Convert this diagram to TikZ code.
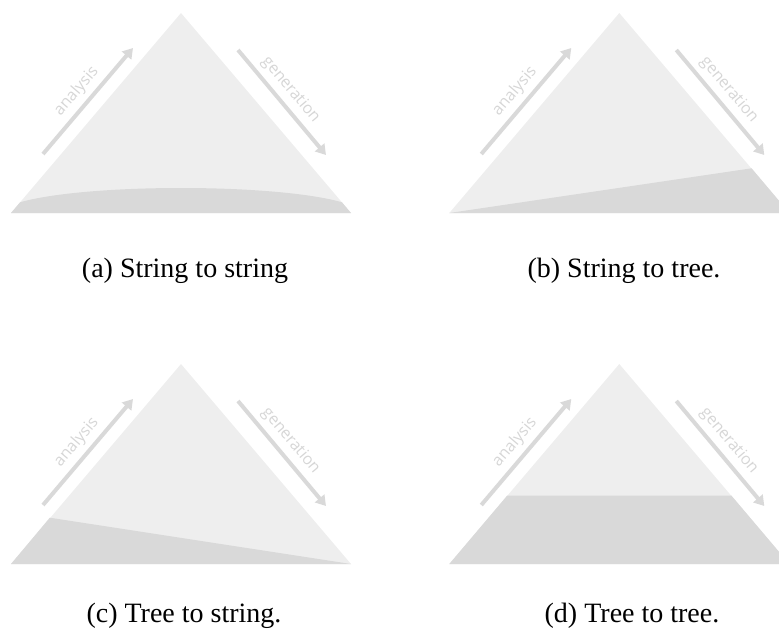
\documentclass[tikz,border=0pt]{standalone}
\usepackage{fontspec}
\setmainfont{Liberation Serif}
\newfontfamily\lblfont{Open Sans}
\usetikzlibrary{positioning,arrows.meta}
\definecolor{triLite}{HTML}{EEEEEE}
\definecolor{triDark}{HTML}{D9D9D9}
\definecolor{arrGray}{HTML}{D9D9D9}
\definecolor{lblGray}{HTML}{D6D6D6}

\begin{document}
\begin{tikzpicture}[
  x=1pt, y=-1pt,
  font=\fontsize{28}{32}\selectfont,
  lite/.style={fill=triLite},
  dark/.style={fill=triDark},
  flow/.style={line width=4pt, arrGray, -{Triangle[length=10pt, width=12pt]}},
  lbl/.style={font=\lblfont\fontsize{16}{19}\selectfont, text=lblGray, inner sep=0pt, midway, sloped, above=5pt},
  subcap/.style={anchor=base, inner sep=0pt}
]
\useasboundingbox (0,0) rectangle (779,637);

%% ===== (a) String to string =====
\begin{scope}
  \fill[lite] (11,213) -- (181,13) -- (351,213) -- cycle;
  \begin{scope}
    \clip (11,213) -- (181,13) -- (351,213) -- cycle;
    \fill[dark] (181,213) ellipse [x radius=178pt, y radius=25pt];
  \end{scope}
  \coordinate (a-an0) at (43,154);
  \coordinate (a-an1) at (133,48);
  \coordinate (a-ge0) at (238,50);
  \coordinate (a-ge1) at (326,155);
  \draw[flow] (a-an0) -- (a-an1) node[lbl] {analysis};
  \draw[flow] (a-ge0) -- (a-ge1) node[lbl, pos=0.47] {generation};
\end{scope}
\node[subcap] (capa) at (185,277) {(a) String to string};

%% ===== (b) String to tree =====
\begin{scope}[shift={(438.3,0)}]
  \fill[lite] (11,213) -- (181,13) -- (351,213) -- cycle;
  \fill[dark] (11,213) -- (313.3,168.3) -- (351,213) -- cycle;
  \coordinate (b-an0) at (43,154);
  \coordinate (b-an1) at (133,48);
  \coordinate (b-ge0) at (238,50);
  \coordinate (b-ge1) at (326,155);
  \draw[flow] (b-an0) -- (b-an1) node[lbl] {analysis};
  \draw[flow] (b-ge0) -- (b-ge1) node[lbl, pos=0.47] {generation};
\end{scope}
\node[subcap] (capb) at (624,277) {(b) String to tree.};

%% ===== (c) Tree to string =====
\begin{scope}[shift={(0,351)}]
  \fill[lite] (11,213) -- (181,13) -- (351,213) -- cycle;
  \fill[dark] (11,213) -- (49.8,166.7) -- (351,213) -- cycle;
  \coordinate (c-an0) at (43,154);
  \coordinate (c-an1) at (133,48);
  \coordinate (c-ge0) at (238,50);
  \coordinate (c-ge1) at (326,155);
  \draw[flow] (c-an0) -- (c-an1) node[lbl] {analysis};
  \draw[flow] (c-ge0) -- (c-ge1) node[lbl, pos=0.47] {generation};
\end{scope}
\node[subcap] (capc) at (184,622) {(c) Tree to string.};

%% ===== (d) Tree to tree =====
\begin{scope}[shift={(438.3,351)}]
  \fill[lite] (11,213) -- (181,13) -- (351,213) -- cycle;
  \fill[dark] (11,213) -- (68.8,144.7) -- (293.2,144.7) -- (351,213) -- cycle;
  \coordinate (d-an0) at (43,154);
  \coordinate (d-an1) at (133,48);
  \coordinate (d-ge0) at (238,50);
  \coordinate (d-ge1) at (326,155);
  \draw[flow] (d-an0) -- (d-an1) node[lbl] {analysis};
  \draw[flow] (d-ge0) -- (d-ge1) node[lbl, pos=0.47] {generation};
\end{scope}
\node[subcap] (capd) at (632,622) {(d) Tree to tree.};
\end{tikzpicture}
\end{document}
